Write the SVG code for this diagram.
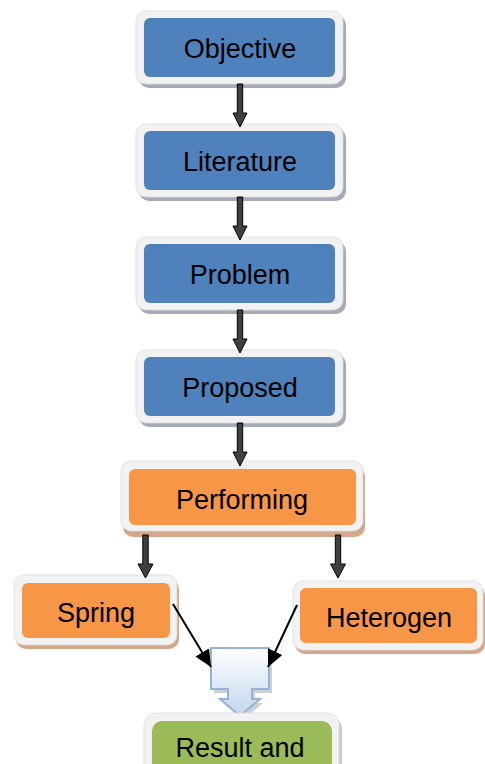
<svg xmlns="http://www.w3.org/2000/svg" width="485" height="764" viewBox="0 0 485 764">
<style>
.frame{fill:#f2f2f2;stroke:#dcdcdc;stroke-width:0.8}
.shb{fill:#a3abb8}
.sho{fill:#d4a78a}
.blue{fill:#4f81bd}
.orange{fill:#f79646}
.green{fill:#9bbb59}
.lbl{font-family:"Liberation Sans",Arial,sans-serif;font-size:27px;fill:#000;text-anchor:middle}
.blk{fill:#404040;stroke:#000;stroke-width:1}
.diag{stroke:#000;stroke-width:2;fill:none;marker-end:url(#ah)}
</style>
<defs>
<marker id="ah" markerUnits="userSpaceOnUse" markerWidth="17" markerHeight="16" viewBox="0 0 17 16" refX="17" refY="8" orient="auto">
<path d="M0 0 L17 8 L0 16 Z" fill="#000"/>
</marker>
<linearGradient id="mg" x1="0" y1="0" x2="0" y2="1">
<stop offset="0" stop-color="#ffffff"/>
<stop offset="1" stop-color="#c2d4ec"/>
</linearGradient>
</defs>
<rect width="485" height="764" fill="#fff"/>

<g id="objective">
<rect class="shb" x="139" y="15" width="207" height="73" rx="10"/>
<rect class="frame" x="136" y="11" width="207" height="73" rx="10"/>
<rect class="blue" x="144" y="18" width="191" height="59" rx="6"/>
<text class="lbl" x="240" y="58">Objective</text>
</g>
<g id="literature">
<rect class="shb" x="139" y="128" width="207" height="73" rx="10"/>
<rect class="frame" x="136" y="124" width="207" height="73" rx="10"/>
<rect class="blue" x="144" y="131" width="191" height="59" rx="6"/>
<text class="lbl" x="240" y="171">Literature</text>
</g>
<g id="problem">
<rect class="shb" x="139" y="241" width="207" height="73" rx="10"/>
<rect class="frame" x="136" y="237" width="207" height="73" rx="10"/>
<rect class="blue" x="144" y="244" width="191" height="59" rx="6"/>
<text class="lbl" x="240" y="284">Problem</text>
</g>
<g id="proposed">
<rect class="shb" x="139" y="354" width="207" height="73" rx="10"/>
<rect class="frame" x="136" y="350" width="207" height="73" rx="10"/>
<rect class="blue" x="144" y="357" width="191" height="59" rx="6"/>
<text class="lbl" x="240" y="397">Proposed</text>
</g>
<g id="performing">
<rect class="sho" x="123" y="466" width="242" height="71" rx="10"/>
<rect class="frame" x="121" y="461" width="242" height="70" rx="10"/>
<rect class="orange" x="129" y="469" width="227" height="56" rx="6"/>
<text class="lbl" x="242" y="509">Performing</text>
</g>
<g id="spring">
<rect class="sho" x="16" y="579" width="163" height="70" rx="10"/>
<rect class="frame" x="14" y="575" width="163" height="70" rx="10"/>
<rect class="orange" x="22" y="583" width="148" height="55" rx="6"/>
<text class="lbl" x="96" y="622">Spring</text>
</g>
<g id="heterogen">
<rect class="sho" x="295" y="585" width="190" height="69" rx="10"/>
<rect class="frame" x="293" y="581" width="190" height="69" rx="10"/>
<rect class="orange" x="300" y="588" width="177" height="55" rx="6"/>
<text class="lbl" x="389" y="627">Heterogen</text>
</g>
<g id="merge">
<path d="M214 652 H272 V693 H255 V703 H263 L243 720 L223 703 H231 V693 H214 Z" fill="#b8bec8" opacity="0.7"/>
<path d="M211 648 H269 V689 H252 V699 H260 L240 716 L220 699 H228 V689 H211 Z" fill="url(#mg)" stroke="#95b3d7" stroke-width="2"/>
</g>
<g id="result">
<rect fill="#c8ccd2" x="147" y="717" width="195" height="80" rx="12"/>
<rect class="frame" x="144" y="713" width="195" height="80" rx="12"/>
<rect class="green" x="152" y="721" width="180" height="70" rx="10"/>
<text class="lbl" x="240" y="757">Result and</text>
</g>

<g id="connectors">
<path class="blk" d="M237.3 84 H242.7 V113 H247 L240 127 L233 113 H237.3 Z"/>
<path class="blk" d="M237.3 197 H242.7 V226 H247 L240 240 L233 226 H237.3 Z"/>
<path class="blk" d="M237.3 310 H242.7 V339 H247 L240 353 L233 339 H237.3 Z"/>
<path class="blk" d="M237.3 423 H242.7 V452 H247 L240 466 L233 452 H237.3 Z"/>
<path class="blk" d="M142.8 535 H148.2 V564 H153 L145.5 578 L138 564 H142.8 Z"/>
<path class="blk" d="M335.3 535 H340.7 V564 H345.5 L338 578 L330.5 564 H335.3 Z"/>
<line class="diag" x1="173" y1="604" x2="211" y2="667"/>
<line class="diag" x1="297" y1="605" x2="268" y2="667"/>
</g>
</svg>
